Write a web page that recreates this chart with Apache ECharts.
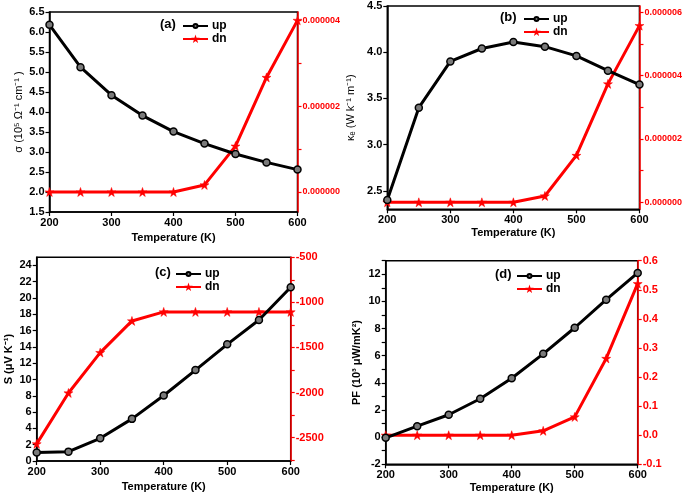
<!DOCTYPE html>
<html><head><meta charset="utf-8">
<script src="https://cdn.jsdelivr.net/npm/echarts@6/dist/echarts.min.js"></script>
<style>html,body{margin:0;padding:0;background:#fff}#c{width:685px;height:496px}</style>
</head><body><div id="c"></div>
<script>
// ---- data ----
const temps = [200, 250, 300, 350, 400, 450, 500, 550, 600];
const sigmaUp = [6.18, 5.12, 4.42, 3.91, 3.51, 3.21, 2.95, 2.74, 2.56];
const sigmaDn = [0, 0, 0, 0, 0, 1.65e-7, 1.07e-6, 2.67e-6, 4.0e-6];
const kappaUp = [2.40, 3.40, 3.90, 4.04, 4.11, 4.06, 3.96, 3.80, 3.65];
const kappaDn = [0, 0, 0, 0, 0, 2.0e-7, 1.48e-6, 3.74e-6, 5.58e-6];
const seebeckUp = [1.03, 1.15, 2.79, 5.17, 8.04, 11.16, 14.32, 17.31, 21.33];
const seebeckDn = [-2570, -2005, -1557, -1206, -1106, -1106, -1106, -1106, -1106];
const pfUp = [-0.05, 0.81, 1.65, 2.83, 4.34, 6.14, 8.06, 10.13, 12.1];
const pfDn = [0, 0, 0, 0, 0, 0.015, 0.063, 0.264, 0.521];

// ---- tick labels ----
const xTicks = [200, 300, 400, 500, 600];
const aLeftTicks = [1.5, 2.0, 2.5, 3.0, 3.5, 4.0, 4.5, 5.0, 5.5, 6.0, 6.5];
const aRightTicks = [0, 1e-6, 2e-6, 3e-6, 4e-6];
const aRightLabels = [0, 2e-6, 4e-6];
const bLeftTicks = [2.5, 3.0, 3.5, 4.0, 4.5];
const bRightTicks = [0, 1e-6, 2e-6, 3e-6, 4e-6, 5e-6, 6e-6];
const bRightLabels = [0, 2e-6, 4e-6, 6e-6];
const cLeftTicks = [0, 2, 4, 6, 8, 10, 12, 14, 16, 18, 20, 22, 24];
const cRightTicks = [-500, -750, -1000, -1250, -1500, -1750, -2000, -2250, -2500, -2750];
const cRightLabels = [-500, -1000, -1500, -2000, -2500];
const dLeftTicks = [-2, -1, 0, 1, 2, 3, 4, 5, 6, 7, 8, 9, 10, 11, 12, 13];
const dLeftLabels = [-2, 0, 2, 4, 6, 8, 10, 12];
const dRightTicks = [-0.1, 0, 0.1, 0.2, 0.3, 0.4, 0.5, 0.6];

const FONT = 'Liberation Sans';
const RED = '#ff0000';
const STAR = 'path://M12,0 L14.9,8.6 L24,8.6 L16.6,13.9 L19.4,22.8 L12,17.5 L4.6,22.8 L7.4,13.9 L0,8.6 L9.1,8.6 Z';

const grids = [
  {left: 49.5, top: 12, width: 248, height: 200},
  {left: 387.3, top: 6, width: 253.4, height: 203.3},
  {left: 36.7, top: 257.3, width: 254, height: 203.7},
  {left: 385.7, top: 260.7, width: 252, height: 203.6}
].map(g => Object.assign(g, {show: true, borderColor: '#000', borderWidth: 1.5, backgroundColor: 'transparent'}));

const xAxes = grids.map((g, i) => ({
  type: 'value', gridIndex: i, min: 200, max: 600, interval: 100,
  name: 'Temperature (K)', nameLocation: 'middle', nameGap: [20, 18, 20, 18][i],
  nameTextStyle: {fontFamily: FONT, fontWeight: 'bold', fontSize: 11, color: '#000'},
  axisLine: {onZero: false, lineStyle: {color: '#000', width: 1.5}},
  axisTick: {length: 4, lineStyle: {color: '#000', width: 1.2}},
  axisLabel: {fontFamily: FONT, fontWeight: 'bold', fontSize: 11, color: '#000', margin: 5,
    customValues: xTicks},
  splitLine: {show: false}
}));

function yAx(gi, pos, color, min, max, ticks, labels, fmt, fs, name, gap, bold) {
  return {
    type: 'value', gridIndex: gi, position: pos, min: min, max: max,
    name: name || '', nameLocation: 'middle', nameGap: gap || 0,
    nameTextStyle: {fontFamily: FONT, fontWeight: bold ? 'bold' : 'normal', fontSize: 11, color: '#000'},
    axisLine: {show: true, onZero: false, lineStyle: {color: color, width: 1.5}},
    axisTick: {show: true, length: 4, customValues: ticks, lineStyle: {color: color, width: 1.2}},
    axisLabel: {fontFamily: FONT, fontWeight: 'bold', fontSize: fs, color: color, margin: 5,
      customValues: labels, formatter: fmt},
    splitLine: {show: false}
  };
}

const f1 = v => (+v).toFixed(1);
const f6 = v => (+v).toFixed(6);
const f0 = v => String(Math.round(+v));

const yAxes = [
  yAx(0, 'left', '#000', 1.5, 6.5, aLeftTicks, aLeftTicks, f1, 11, 'σ (10⁵ Ω⁻¹ cm⁻¹ )', 25, false),
  yAx(0, 'right', RED, -4.66e-7, 4.195e-6, aRightTicks, aRightLabels, f6, 9),
  yAx(1, 'left', '#000', 2.3, 4.5, bLeftTicks, bLeftTicks, f1, 11, 'κₑ (W k⁻¹ m⁻¹)', 31, false),
  yAx(1, 'right', RED, -2.21e-7, 6.2e-6, bRightTicks, bRightLabels, f6, 9),
  yAx(2, 'left', '#000', 0, 25, cLeftTicks, cLeftTicks, f0, 11, 'S (μV K⁻¹)', 22, true),
  yAx(2, 'right', RED, -2760, -500, cRightTicks, cRightLabels, f0, 11),
  yAx(3, 'left', '#000', -2, 13, dLeftTicks, dLeftLabels, f0, 11, 'PF (10³ μW/mK²)', 23, true),
  yAx(3, 'right', RED, -0.1, 0.6, dRightTicks, dRightTicks, f1, 11)
];

function pairs(arr) { return temps.map((t, i) => [t, arr[i]]); }
function upSeries(gi, arr) {
  return {name: 'up', type: 'line', xAxisIndex: gi, yAxisIndex: gi * 2, data: pairs(arr),
    symbol: 'circle', symbolSize: 7,
    lineStyle: {color: '#000', width: 3},
    itemStyle: {color: '#7a7a7a', borderColor: '#000', borderWidth: 1.5},
    z: 3};
}
function dnSeries(gi, arr) {
  return {name: 'dn', type: 'line', xAxisIndex: gi, yAxisIndex: gi * 2 + 1, data: pairs(arr),
    symbol: STAR, symbolSize: 9,
    lineStyle: {color: RED, width: 3},
    itemStyle: {color: RED, borderColor: RED, borderWidth: 0.5},
    z: 2};
}

const legendPos = [[182, 20], [523, 13], [175, 268], [516, 270]];
const legends = legendPos.map(p => ({
  left: p[0], top: p[1], orient: 'vertical', itemWidth: 25, itemHeight: 5, itemGap: 1, padding: 0,
  data: [{name: 'up'}, {name: 'dn', itemStyle: {borderWidth: 1.5, borderColor: RED}}], selectedMode: false,
  textStyle: {fontFamily: FONT, fontWeight: 'bold', fontSize: 12, lineHeight: 12, color: '#000', padding: [0, 0, 0, -1]}
}));

const tagPos = [['(a)', 160, 24], ['(b)', 500, 17], ['(c)', 155, 272], ['(d)', 495, 274]];
const graphics = tagPos.map(t => ({
  type: 'text', x: t[1], y: t[2],
  style: {text: t[0], fontFamily: FONT, fontWeight: 'bold', fontSize: 13, fill: '#000',
    textVerticalAlign: 'middle', verticalAlign: 'middle'}
}));

const chart = echarts.init(document.getElementById('c'));
chart.setOption({
  animation: false,
  backgroundColor: '#fff',
  grid: grids,
  xAxis: xAxes,
  yAxis: yAxes,
  legend: legends,
  graphic: graphics,
  series: [
    upSeries(0, sigmaUp), dnSeries(0, sigmaDn),
    upSeries(1, kappaUp), dnSeries(1, kappaDn),
    upSeries(2, seebeckUp), dnSeries(2, seebeckDn),
    upSeries(3, pfUp), dnSeries(3, pfDn)
  ]
});
</script></body></html>
